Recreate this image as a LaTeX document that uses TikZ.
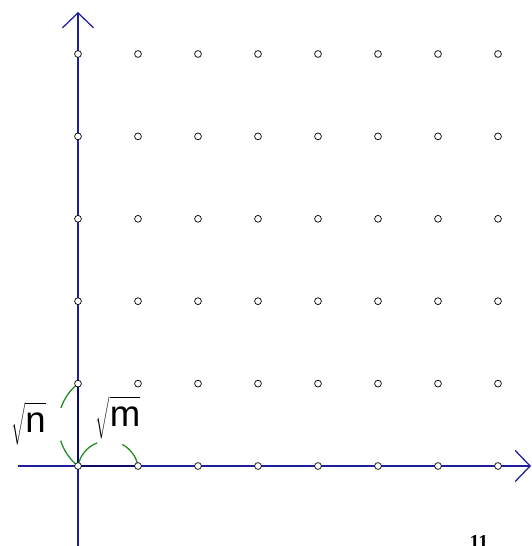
\documentclass[tikz,border=0pt]{standalone}
\usepackage{fontspec}
\setmainfont{Liberation Sans}
\newfontfamily\numfont{Liberation Serif}
\usepackage{xcolor}
\definecolor{cAxis}{HTML}{1F1F9E}
\definecolor{cUnit}{HTML}{0B0B70}
\definecolor{cArc}{HTML}{1E8C1E}
\usetikzlibrary{arrows.meta,backgrounds}
\newcommand{\lenroot}[1]{$\sqrt{\vrule height 19pt depth 8pt width 0pt\hbox{#1}}$}
\tikzset{
  node-lattice/.style={draw=black,fill=white,circle,line width=0.5pt,
    inner sep=0pt,minimum size=0.17cm},
  node-len/.style={font=\fontsize{26}{30}\selectfont,inner sep=0pt},
  arrow-axis/.style={-{Straight Barb[length=0.375cm,width=0.78cm]},
    line width=0.9pt,draw=cAxis},
  line-unit/.style={line width=1.8pt,draw=cUnit},
  arc-len/.style={line width=0.9pt,draw=cArc},
}

\begin{document}
\begin{tikzpicture}[x=0.025cm,y=0.025cm]
  \useasboundingbox (-78,-80) rectangle (454,466);
  % lattice
  \foreach \i in {0,...,7}
    \foreach \j in {0,...,5}
      \node[node-lattice] (p-\i-\j) at (60*\i,82.4*\j) {};

  \coordinate (x-from) at (-60,0);
  \coordinate (x-to) at (453,0);
  \coordinate (y-from) at (0,-80);
  \coordinate (y-to) at (0,454);

  \node[node-len] (len-n) at (-49.5,42.5) {\lenroot{n}};
  \node[node-len] (len-m) at (40,48.5) {\lenroot{m}};
  \node[font=\numfont\bfseries\fontsize{14}{14}\selectfont,anchor=base]
    (page) at (401,-82.5) {11};

  \begin{scope}[on background layer]
    \draw[arrow-axis] (x-from) -- (x-to);
    \draw[arrow-axis] (y-from) -- (y-to);
    \draw[line-unit] (p-0-0.center) -- (p-1-0.center);
    \draw[line-unit] (p-0-0.center) -- (p-0-1.center);
    \draw[arc-len] (p-0-1.center) arc[start angle=128.7,end angle=161.4,radius=52.8];
    \draw[arc-len] (p-0-0.center) arc[start angle=231.3,end angle=197.5,radius=52.8];
    \draw[arc-len] (p-0-0.center) arc[start angle=169.8,end angle=111,radius=30.5];
    \draw[arc-len] (p-1-0.center) arc[start angle=10.2,end angle=62,radius=30.5];
  \end{scope}
\end{tikzpicture}
\end{document}
